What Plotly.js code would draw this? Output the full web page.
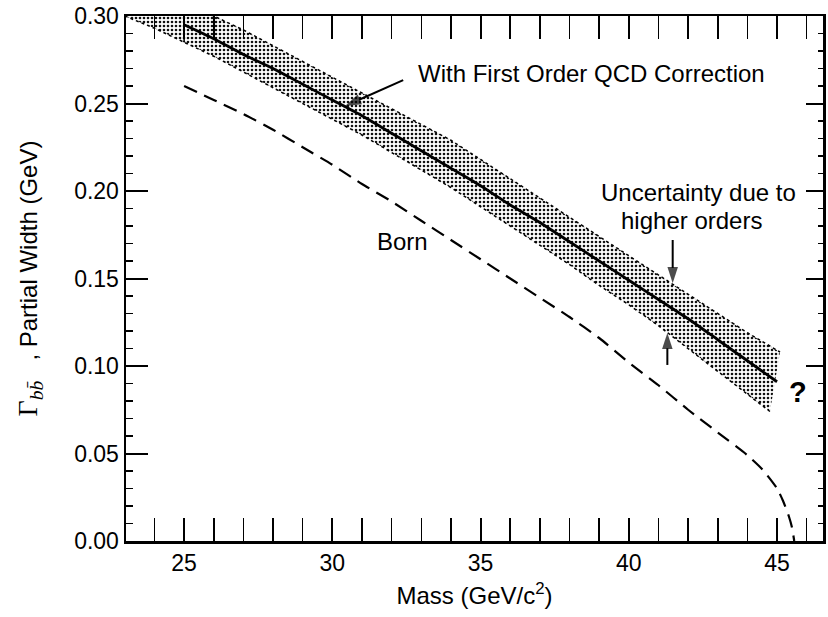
<!DOCTYPE html>
<html>
<head>
<meta charset="utf-8">
<script src="https://cdn.plot.ly/plotly-3.0.1.min.js"></script>
<style>html,body{margin:0;padding:0;background:#fff;}#chart{width:828px;height:617px;}</style>
</head>
<body>
<div id="chart"></div>
<script>
// Solid curve: with first order QCD correction
const massQCD = [25,26,27,28,29,30,31,32,33,34,35,36,37,38,39,40,41,42,43,44,45];
const widthQCD = [0.295,0.287,0.278,0.270,0.261,0.252,0.243,0.233,0.223,0.213,0.203,0.192,0.182,0.171,0.160,0.149,0.138,0.127,0.115,0.103,0.091];

// Uncertainty band due to higher orders
const bandUpperX = [23,24,25,26,27,28,29,30,31,32,33,34,35,36,37,38,39,40,41,42,43,44,45.1];
const bandUpperY = [0.325,0.316,0.308,0.300,0.292,0.283,0.274,0.265,0.256,0.247,0.238,0.229,0.218,0.207,0.196,0.185,0.174,0.163,0.152,0.141,0.130,0.119,0.108];
const bandLowerX = [23,24,25,26,27,28,29,30,31,32,33,34,35,36,37,38,39,40,41,42,43,44,44.76];
const bandLowerY = [0.300,0.293,0.285,0.277,0.268,0.259,0.250,0.241,0.232,0.222,0.212,0.202,0.191,0.180,0.169,0.158,0.146,0.135,0.123,0.110,0.097,0.084,0.074];

// Vertical marker at the start of the QCD curve
const startMarkX = [25,25];
const startMarkY = [0.300,0.285];

// Born approximation (dashed)
const massBorn = [25,26,27,28,29,30,31,32,33,34,35,36,37,38,39,40,41,42,43,44,44.5,45,45.2,45.4,45.5,45.58];
const widthBorn = [0.260,0.252,0.244,0.235,0.225,0.215,0.204,0.194,0.183,0.172,0.161,0.150,0.139,0.128,0.116,0.102,0.089,0.075,0.062,0.049,0.041,0.030,0.023,0.014,0.008,0.0];

// Pointer arrows (tail -> head)
const arrowQCDX = [32.39, 30.43];
const arrowQCDY = [0.2634, 0.2486];
const arrowDownX = [41.48, 41.48];
const arrowDownY = [0.172, 0.1473];
const arrowUpX = [41.3, 41.3];
const arrowUpY = [0.1006, 0.1189];

const xTicks = [25,30,35,40,45];
const yTicks = [0,0.05,0.10,0.15,0.20,0.25,0.30];
const yTickText = ['0.00','0.05','0.10','0.15','0.20','0.25','0.30'];

const FONT = '"Liberation Sans", Arial, Helvetica, sans-serif';

function arrowTrace(xs, ys) {
  return {x: xs, y: ys, mode:'lines+markers', line:{color:'black', width:2},
    marker:{symbol:'arrow', angleref:'previous', size:[0,17], color:'black', line:{width:0}},
    hoverinfo:'skip', showlegend:false};
}

const traces = [
  {x: bandLowerX, y: bandLowerY, mode:'lines', line:{color:'black', width:1.5, dash:'dot'}, hoverinfo:'skip', showlegend:false},
  {x: bandUpperX, y: bandUpperY, mode:'lines', line:{color:'black', width:1.5, dash:'dot'}, fill:'tonexty',
   fillcolor:'rgba(0,0,0,0)',
   fillpattern:{shape:'.', size:4, solidity:0.33, fgcolor:'#111', bgcolor:'#fff', fillmode:'replace'},
   hoverinfo:'skip', showlegend:false},
  {x: startMarkX, y: startMarkY, mode:'lines', line:{color:'black', width:1.5}, hoverinfo:'skip', showlegend:false},
  {x: massQCD, y: widthQCD, mode:'lines', line:{color:'black', width:2.8, shape:'spline', smoothing:0.6}, showlegend:false},
  {x: massBorn, y: widthBorn, mode:'lines', line:{color:'black', width:2.2, dash:'14px,8px', shape:'spline', smoothing:0.6}, showlegend:false},
  arrowTrace(arrowQCDX, arrowQCDY),
  arrowTrace(arrowDownX, arrowDownY),
  arrowTrace(arrowUpX, arrowUpY),
  {x: [23], y: [0], yaxis:'y2', mode:'markers', marker:{opacity:0}, hoverinfo:'skip', showlegend:false}
];

const annFont = {family: FONT, size: 24, color:'black'};

const layout = {
  width: 828, height: 617,
  margin: {l:126, r:5, t:16, b:76},
  paper_bgcolor:'white', plot_bgcolor:'white',
  font: {family: FONT, size: 23, color:'black'},
  showlegend:false,
  xaxis: {
    range:[23.04, 46.55], tickvals:xTicks, ticktext:xTicks.map(String),
    ticks:'inside', ticklen:23, tickwidth:2, tickcolor:'black',
    minor:{ticks:'inside', ticklen:8, tickwidth:1.5, dtick:1, tick0:0, tickcolor:'black'},
    showline:true, linewidth:2.5, linecolor:'black', mirror:'allticks',
    showgrid:false, zeroline:false,
    tickfont:{family:FONT, size:23},
    title:{text:'Mass (GeV/c<sup>2</sup>)', font:{family:FONT, size:24}, standoff:12}
  },
  yaxis: {
    range:[0, 0.30], tickvals:yTicks, ticktext:yTickText,
    ticks:'inside', ticklen:22, tickwidth:2, tickcolor:'black',
    minor:{ticks:'inside', ticklen:7, tickwidth:1.5, dtick:0.01, tick0:0, tickcolor:'black'},
    showline:true, linewidth:2.5, linecolor:'black', mirror:false,
    showgrid:false, zeroline:false,
    tickfont:{family:FONT, size:23},
    title:{text:'<span style="font-family:\'Liberation Serif\',serif;font-size:28px">Γ<sub><i>b</i><i>b̄</i></sub></span>   , Partial Width (GeV)', font:{family:FONT, size:24}, standoff:30}
  },
  yaxis2: {
    range:[0, 0.30], overlaying:'y', side:'right', anchor:'x',
    tickvals:yTicks, showticklabels:false,
    ticks:'inside', ticklen:17, tickwidth:2, tickcolor:'black',
    minor:{ticks:'inside', ticklen:5, tickwidth:1.5, dtick:0.01, tick0:0, tickcolor:'black'},
    showline:true, linewidth:2.5, linecolor:'black',
    showgrid:false, zeroline:false
  },
  annotations: [
    {x:32.82, y:0.2669, xref:'x', yref:'y', text:'With First Order QCD Correction', showarrow:false, xanchor:'left', yanchor:'middle', font:annFont},
    {x:42.34, y:0.1994, xref:'x', yref:'y', text:'Uncertainty due to', showarrow:false, xanchor:'center', yanchor:'middle', font:annFont},
    {x:42.13, y:0.1834, xref:'x', yref:'y', text:'higher orders', showarrow:false, xanchor:'center', yanchor:'middle', font:annFont},
    {x:32.35, y:0.171, xref:'x', yref:'y', text:'Born', showarrow:false, font:annFont},
    {x:45.71, y:0.085, xref:'x', yref:'y', text:'<b>?</b>', showarrow:false, font:{family:FONT, size:29, color:'black'}}
  ]
};

Plotly.newPlot('chart', traces, layout, {staticPlot:true, displayModeBar:false});
</script>
</body>
</html>
